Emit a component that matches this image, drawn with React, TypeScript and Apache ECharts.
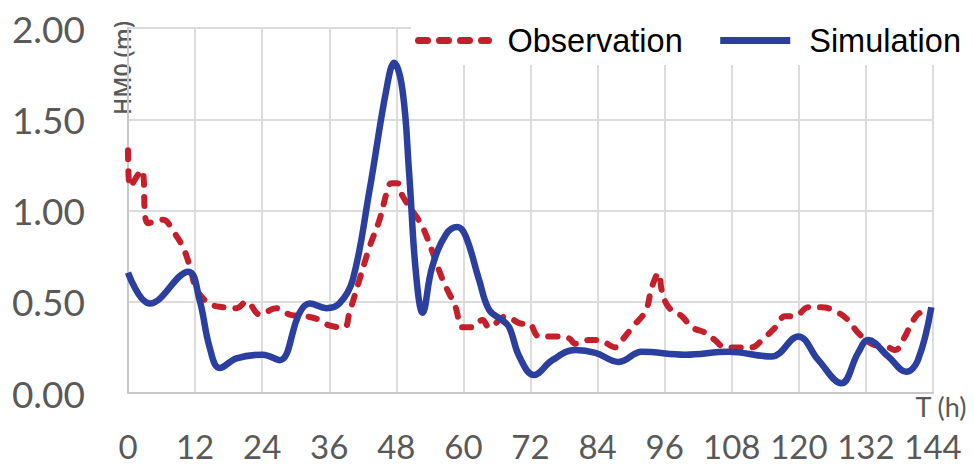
import React, { useEffect, useRef } from "react";
import * as echarts from "echarts";

// Observation (red dashed) — hours and significant wave height (m)
const obsHours = [0, 0.4, 2.4, 3.6, 6.3, 8, 9.8, 11.1, 12.3, 14.6, 17, 19.4, 21.2, 23.6, 26.5, 28.9, 31.9, 34.3, 36, 38.7, 39.6, 41.4, 43.2, 45, 46.4, 47.1, 48.2, 49.1, 51.5, 52.7, 54.5, 56.3, 58.6, 59.8, 61.6, 63.4, 64.6, 67.6, 70.5, 71.7, 73.5, 75.9, 78.9, 80, 82.4, 84.2, 87.2, 88.4, 90.2, 92.6, 93.7, 94.9, 95.5, 96.7, 99.1, 100.9, 103.3, 105, 106.8, 109.2, 111.6, 113.4, 115.8, 117.5, 119.3, 121.7, 124.1, 127, 128.8, 130.6, 133, 136, 137.2, 139, 140.1, 141.9, 143];
const obsValues = [1.33, 1.13, 1.22, 0.93, 0.95, 0.89, 0.8, 0.69, 0.565, 0.49, 0.47, 0.465, 0.5, 0.43, 0.465, 0.43, 0.42, 0.4, 0.37, 0.36, 0.44, 0.62, 0.8, 0.95, 1.11, 1.15, 1.15, 1.08, 0.97, 0.91, 0.77, 0.62, 0.47, 0.36, 0.36, 0.4, 0.36, 0.42, 0.38, 0.38, 0.31, 0.31, 0.3, 0.27, 0.29, 0.29, 0.25, 0.29, 0.36, 0.45, 0.58, 0.656, 0.56, 0.47, 0.42, 0.36, 0.33, 0.29, 0.25, 0.25, 0.25, 0.29, 0.36, 0.42, 0.42, 0.47, 0.47, 0.44, 0.4, 0.33, 0.27, 0.25, 0.235, 0.31, 0.38, 0.44, 0.42];

// Simulation (blue solid)
const simHours = [0, 3.9, 10.8, 12.8, 14.6, 16.4, 19.4, 24.1, 27.1, 30.7, 32.5, 35.5, 37.8, 40.2, 43.2, 46.2, 47.6, 49.1, 50.3, 51.5, 52.7, 54.4, 56.9, 58.9, 60.4, 62.8, 64.6, 66.9, 68.2, 70, 72.6, 75.9, 80, 83.6, 87.8, 91.9, 99.7, 107.4, 115.1, 119.9, 123.5, 127.6, 130.6, 132.4, 136, 139.2, 141.3, 143.7];
const simValues = [0.66, 0.49, 0.665, 0.51, 0.25, 0.137, 0.19, 0.21, 0.18, 0.44, 0.49, 0.465, 0.49, 0.62, 1.11, 1.66, 1.81, 1.66, 1.2, 0.66, 0.44, 0.69, 0.87, 0.91, 0.86, 0.62, 0.455, 0.4, 0.36, 0.2, 0.099, 0.18, 0.235, 0.22, 0.17, 0.226, 0.21, 0.226, 0.2, 0.31, 0.18, 0.053, 0.22, 0.29, 0.2, 0.117, 0.18, 0.47];

const xTicks = [0, 12, 24, 36, 48, 60, 72, 84, 96, 108, 120, 132, 144];
const yTicks = [0, 0.5, 1.0, 1.5, 2.0];

const RED = "#c4202b";
const BLUE = "#2b3f9f";
const LABEL = "#595959";
const RED_DASH = [9, 12];

export default function App() {
  const ref = useRef<HTMLDivElement>(null);
  useEffect(() => {
    if (!ref.current) return;
    const chart = echarts.init(ref.current, undefined, { renderer: "svg" });
    const obs = obsHours.map((h, i) => [h, obsValues[i]]);
    const sim = simHours.map((h, i) => [h, simValues[i]]);
    chart.setOption({
      animation: false,
      backgroundColor: "#ffffff",
      grid: { left: 128, right: 41, top: 28, bottom: 72 },
      legend: {
        left: 411,
        top: 20,
        width: 600,
        itemWidth: 70,
        itemHeight: 14,
        itemGap: 34,
        backgroundColor: "#ffffff",
        padding: [4, 4, 8, 4],
        textStyle: {
          fontFamily: "Liberation Sans, Arial, sans-serif",
          fontSize: 32.5,
          color: "#000000",
          padding: [0, 0, 0, 14],
        },
        data: [
          {
            name: "Observation",
            itemStyle: { opacity: 0 },
            lineStyle: { color: RED, width: 7, type: RED_DASH, cap: "round" },
          },
          {
            name: "Simulation",
            itemStyle: { opacity: 0 },
            lineStyle: { color: BLUE, width: 7 },
          },
        ],
      },
      xAxis: {
        type: "value",
        min: xTicks[0],
        max: xTicks[xTicks.length - 1],
        interval: 12,
        axisLine: { show: true, lineStyle: { color: "#c8c8c8", width: 2 } },
        axisTick: { show: false },
        splitLine: { show: true, lineStyle: { color: "#dcdcdc", width: 2 } },
        axisLabel: {
          margin: 38,
          fontFamily: "Lato, sans-serif",
          fontSize: 33,
          lineHeight: 30,
          color: LABEL,
          showMinLabel: true,
          showMaxLabel: true,
        },
      },
      yAxis: {
        type: "value",
        min: yTicks[0],
        max: yTicks[yTicks.length - 1],
        interval: 0.5,
        axisLine: { show: true, lineStyle: { color: "#c8c8c8", width: 2 } },
        axisTick: { show: false },
        splitLine: { show: true, lineStyle: { color: "#dcdcdc", width: 2 } },
        axisLabel: {
          margin: 43,
          fontFamily: "Lato, sans-serif",
          fontSize: 37,
          color: LABEL,
          formatter: (v: number) => v.toFixed(2),
        },
      },
      graphic: [
        {
          type: "text",
          x: 122,
          y: 68,
          rotation: Math.PI / 2,
          style: {
            text: "HM0 (m)",
            font: "600 23px 'Open Sans', sans-serif",
            fill: LABEL,
            align: "center",
            verticalAlign: "middle",
          },
        },
        {
          type: "text",
          x: 941,
          y: 406,
          style: {
            text: "T (h)",
            font: "27px Lato, sans-serif",
            fill: LABEL,
            align: "center",
            verticalAlign: "middle",
          },
        },
      ],
      series: [
        {
          name: "Observation",
          type: "line",
          data: obs,
          smooth: 0.4,
          showSymbol: false,
          symbol: "none",
          lineStyle: { color: RED, width: 6, type: RED_DASH, cap: "round" },
          itemStyle: { color: RED },
          z: 2,
        },
        {
          name: "Simulation",
          type: "line",
          data: sim,
          smooth: 0.4,
          showSymbol: false,
          symbol: "none",
          lineStyle: { color: BLUE, width: 6.5 },
          itemStyle: { color: BLUE },
          z: 3,
        },
      ],
    });
    return () => chart.dispose();
  }, []);
  return <div ref={ref} style={{ width: 974, height: 465, position: "absolute", left: 0, top: 0 }} />;
}
